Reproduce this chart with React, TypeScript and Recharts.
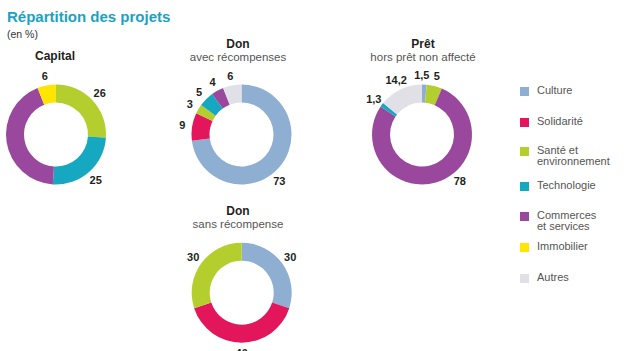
import { PieChart, Pie, Cell } from 'recharts';

const FONT = '"Liberation Sans", Arial, Helvetica, sans-serif';

const CATEGORIES = [
  'Culture',
  'Solidarité',
  'Santé et environnement',
  'Technologie',
  'Commerces et services',
  'Immobilier',
  'Autres',
];
const CATEGORY_COLORS = ['#8FAFD2', '#E3165B', '#B4CE2D', '#16A7C1', '#9A489D', '#FFE500', '#E2E0E7'];
const LEGEND_LINES = [
  ['Culture'],
  ['Solidarité'],
  ['Santé et', 'environnement'],
  ['Technologie'],
  ['Commerces', 'et services'],
  ['Immobilier'],
  ['Autres'],
];

const capitalCategories = ['Santé et environnement', 'Technologie', 'Commerces et services', 'Immobilier'];
const capitalValues = [26, 25, 43, 6];
const capitalHidden = ['Commerces et services'];

const donAvecCategories = ['Culture', 'Solidarité', 'Santé et environnement', 'Technologie', 'Commerces et services', 'Autres'];
const donAvecValues = [73, 9, 3, 5, 4, 6];

const pretCategories = ['Culture', 'Santé et environnement', 'Commerces et services', 'Technologie', 'Autres'];
const pretValues = [1.5, 5, 78, 1.3, 14.2];

const donSansCategories = ['Culture', 'Solidarité', 'Santé et environnement'];
const donSansValues = [30, 40, 30];

const colorOf = (name: string) => CATEGORY_COLORS[CATEGORIES.indexOf(name)];
const toRows = (names: string[], values: number[]) =>
  names.map((name, i) => ({ name, value: values[i] }));

const RAD = Math.PI / 180;

function makeLabel(hidden: string[] = []) {
  return (props: any) => {
    const { cx, cy, midAngle, outerRadius, value, percent } = props;
    const name = props.name ?? props.payload?.name;
    if (hidden.includes(name)) return <g />;
    // big slices get their label pushed to the lower right, like the original
    const angle = percent > 0.5 ? -51 : midAngle;
    const r = outerRadius + 10;
    let x = cx + r * Math.cos(-angle * RAD);
    const y = cy + r * Math.sin(-angle * RAD);
    // very thin slice right at the top: nudge left so it doesn't touch its neighbour
    if (percent < 0.02 && angle > 80 && angle < 100) x -= 3;
    return (
      <text
        x={x}
        y={y}
        textAnchor="middle"
        dominantBaseline="central"
        fontFamily={FONT}
        fontSize={11}
        fontWeight="bold"
        fill="#231F20"
      >
        {String(value).replace('.', ',')}
      </text>
    );
  };
}

const donuts = [
  { key: 'capital', rows: toRows(capitalCategories, capitalValues), cx: 56, cy: 134.5, hidden: capitalHidden },
  { key: 'donAvec', rows: toRows(donAvecCategories, donAvecValues), cx: 241.5, cy: 134.5, hidden: [] },
  { key: 'pret', rows: toRows(pretCategories, pretValues), cx: 422, cy: 134.5, hidden: [] },
  { key: 'donSans', rows: toRows(donSansCategories, donSansValues), cx: 241.7, cy: 292.7, hidden: [] },
];

const titleStyle = {
  position: 'absolute' as const,
  transform: 'translateX(-50%)',
  whiteSpace: 'nowrap' as const,
  textAlign: 'center' as const,
  color: '#231F20',
};

function Title({ x, y, title, sub }: { x: number; y: number; title: string; sub?: string }) {
  return (
    <div style={{ ...titleStyle, left: x, top: y }}>
      <div style={{ fontWeight: 'bold', fontSize: 12, lineHeight: '13px' }}>{title}</div>
      {sub && <div style={{ fontSize: 11.5, lineHeight: '13px', color: '#555' }}>{sub}</div>}
    </div>
  );
}

const legendTops = [85, 116, 145, 180, 210, 241, 272];

export default function App() {
  return (
    <div
      style={{
        position: 'absolute',
        left: 0,
        top: 0,
        width: 630,
        height: 351,
        overflow: 'hidden',
        background: '#fff',
        fontFamily: FONT,
      }}
    >
      <PieChart width={630} height={351} margin={{ top: 0, right: 0, bottom: 0, left: 0 }}>
        {donuts.map((d) => (
          <Pie
            key={d.key}
            data={d.rows}
            dataKey="value"
            nameKey="name"
            cx={d.cx}
            cy={d.cy}
            innerRadius={32}
            outerRadius={50}
            startAngle={90}
            endAngle={-270}
            stroke="none"
            labelLine={false}
            label={makeLabel(d.hidden)}
            isAnimationActive={false}
          >
            {d.rows.map((r) => (
              <Cell key={r.name} fill={colorOf(r.name)} />
            ))}
          </Pie>
        ))}
      </PieChart>

      <div
        style={{
          position: 'absolute',
          left: 7,
          top: 8,
          fontSize: 15,
          fontWeight: 'bold',
          color: '#1AA2C4',
          whiteSpace: 'nowrap',
        }}
      >
        Répartition des projets
      </div>
      <div style={{ position: 'absolute', left: 7, top: 28, fontSize: 10.5, color: '#333' }}>(en %)</div>

      <Title x={55} y={50} title="Capital" />
      <Title x={238} y={38} title="Don" sub="avec récompenses" />
      <Title x={423} y={38} title="Prêt" sub="hors prêt non affecté" />
      <Title x={238} y={205} title="Don" sub="sans récompense" />

      {LEGEND_LINES.map((lines, i) => (
        <div key={CATEGORIES[i]} style={{ position: 'absolute', left: 520, top: legendTops[i] }}>
          <div
            style={{
              position: 'absolute',
              left: 0,
              top: 2,
              width: 9,
              height: 9,
              background: CATEGORY_COLORS[i],
            }}
          />
          <div
            style={{
              position: 'absolute',
              left: 17,
              top: 0,
              fontSize: 11,
              lineHeight: '11px',
              color: '#555',
              whiteSpace: 'nowrap',
            }}
          >
            {lines.map((l) => (
              <div key={l}>{l}</div>
            ))}
          </div>
        </div>
      ))}
    </div>
  );
}
